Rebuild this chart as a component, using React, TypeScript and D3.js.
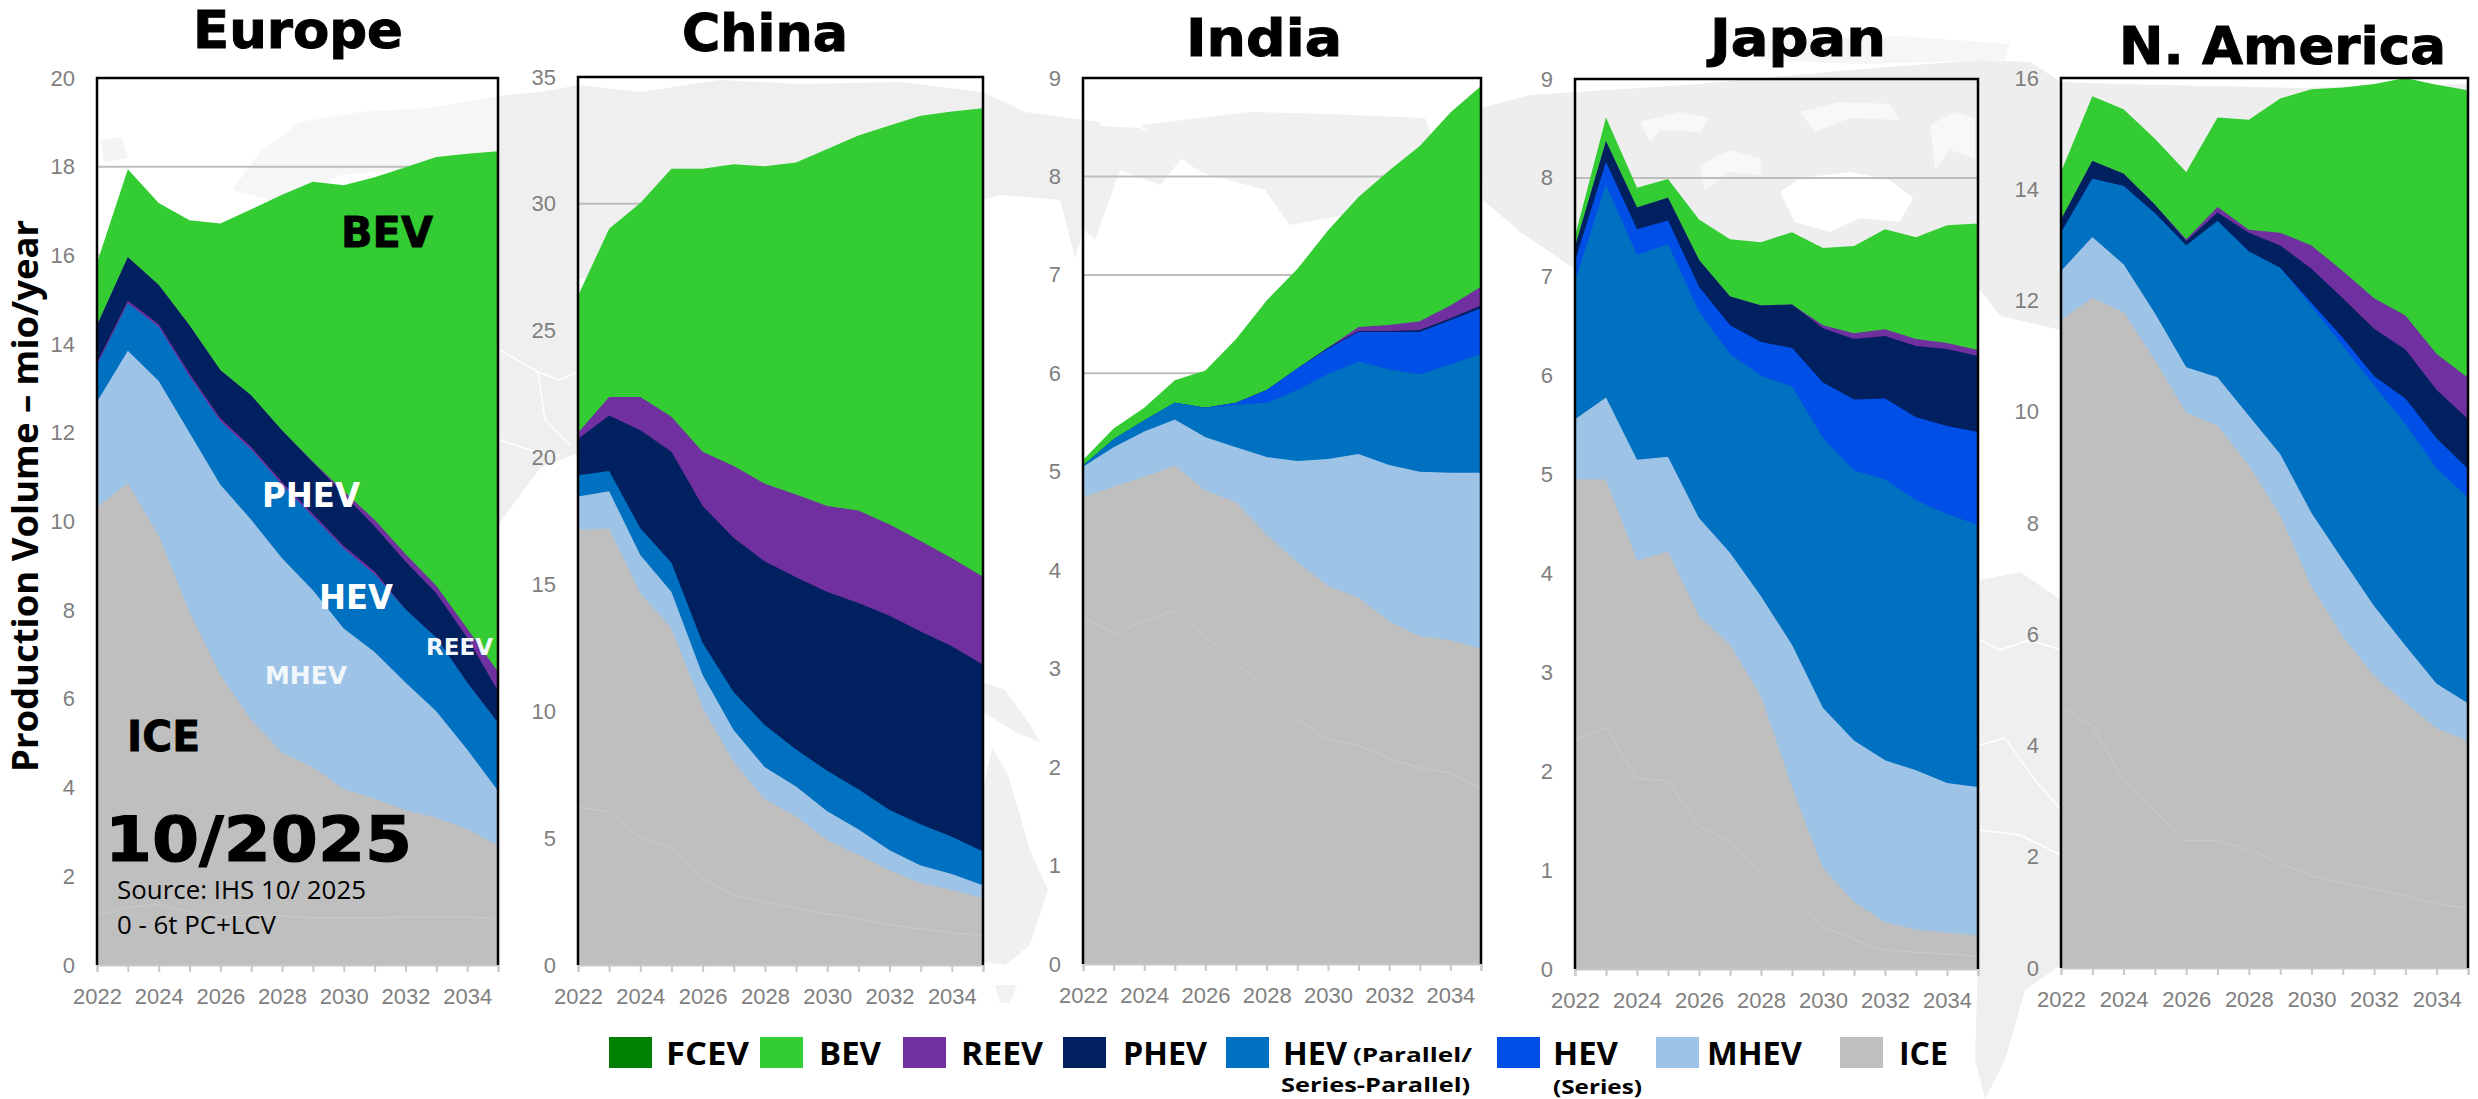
import React, { useEffect, useRef } from 'react';
import * as d3 from 'd3';

const years = [2022, 2023, 2024, 2025, 2026, 2027, 2028, 2029, 2030, 2031, 2032, 2033, 2034, 2035];
const evenYears = years.filter(y => y % 2 === 0);

// stack tops, mio/year (cumulative from the ground up)
const europeIceSplit = [1.12, 1.3, 1.36, 1.2, 1.1, 1.12, 1.1, 1.07, 1.07, 1.07, 1.08, 1.09, 1.09, 1.04];
const europeIce = [10.32, 10.86, 9.68, 7.95, 6.54, 5.53, 4.79, 4.46, 3.97, 3.75, 3.49, 3.32, 3.06, 2.7];
const europeMhev = [12.7, 13.85, 13.17, 12.0, 10.83, 10.04, 9.17, 8.45, 7.59, 7.06, 6.37, 5.72, 4.86, 3.93];
const europeHev = [13.53, 14.92, 14.39, 13.27, 12.26, 11.62, 10.83, 10.11, 9.39, 8.81, 8.02, 7.38, 6.37, 5.46];
const europeHevThin = [13.58, 14.98, 14.45, 13.33, 12.32, 11.68, 10.89, 10.17, 9.45, 8.87, 8.02, 7.38, 6.37, 5.46];
const europePhev = [14.42, 15.96, 15.33, 14.42, 13.41, 12.84, 12.05, 11.33, 10.61, 9.89, 9.1, 8.38, 7.38, 6.18];
const europeReev = [14.42, 15.96, 15.33, 14.42, 13.41, 12.84, 12.05, 11.35, 10.68, 10.04, 9.27, 8.55, 7.59, 6.61];
const europeBev = [15.83, 17.94, 17.18, 16.79, 16.72, 17.04, 17.37, 17.66, 17.58, 17.76, 17.99, 18.22, 18.29, 18.35];

const chinaIceSplit = [6.23, 6.03, 5.03, 4.65, 3.42, 2.76, 2.46, 2.24, 2.01, 1.83, 1.58, 1.43, 1.26, 1.16];
const chinaIce = [17.16, 17.19, 14.65, 13.27, 10.13, 7.99, 6.53, 5.85, 4.92, 4.35, 3.72, 3.22, 2.96, 2.64];
const chinaMhev = [18.47, 18.67, 16.16, 14.7, 11.43, 9.25, 7.79, 7.04, 6.06, 5.35, 4.52, 3.92, 3.59, 3.14];
const chinaHev = [19.3, 19.47, 17.21, 15.85, 12.69, 10.75, 9.45, 8.49, 7.66, 6.93, 6.11, 5.55, 5.05, 4.47];
const chinaPhev = [20.73, 21.66, 21.08, 20.23, 18.09, 16.83, 15.9, 15.28, 14.7, 14.27, 13.77, 13.14, 12.56, 11.83];
const chinaReev = [20.98, 22.39, 22.39, 21.61, 20.23, 19.67, 18.97, 18.54, 18.09, 17.91, 17.36, 16.71, 16.03, 15.3];
const chinaBev = [26.38, 29.02, 30.03, 31.38, 31.38, 31.56, 31.48, 31.63, 32.16, 32.69, 33.09, 33.47, 33.64, 33.77];

const indiaIceSplit = [3.53, 3.36, 3.48, 3.59, 3.32, 3.06, 2.8, 2.49, 2.28, 2.22, 2.09, 1.99, 1.94, 1.78];
const indiaIce = [4.74, 4.85, 4.95, 5.06, 4.81, 4.69, 4.36, 4.08, 3.84, 3.72, 3.48, 3.33, 3.29, 3.2];
const indiaMhev = [5.05, 5.25, 5.41, 5.53, 5.35, 5.25, 5.15, 5.11, 5.13, 5.18, 5.07, 5.0, 4.99, 4.99];
const indiaHev = [5.06, 5.33, 5.52, 5.7, 5.65, 5.68, 5.7, 5.83, 5.99, 6.12, 6.04, 5.99, 6.09, 6.2];
const indiaHevSeries = [5.06, 5.33, 5.52, 5.7, 5.65, 5.7, 5.83, 6.05, 6.25, 6.42, 6.42, 6.42, 6.54, 6.66];
const indiaPhev = [5.06, 5.33, 5.52, 5.7, 5.65, 5.7, 5.83, 6.05, 6.26, 6.43, 6.43, 6.44, 6.56, 6.69];
const indiaReev = [5.06, 5.33, 5.52, 5.7, 5.65, 5.7, 5.83, 6.05, 6.26, 6.47, 6.49, 6.53, 6.69, 6.88];
const indiaBev = [5.12, 5.44, 5.65, 5.93, 6.03, 6.35, 6.74, 7.06, 7.45, 7.79, 8.06, 8.31, 8.65, 8.92];

const japanIceSplit = [2.32, 2.44, 1.93, 1.9, 1.44, 1.29, 0.98, 0.71, 0.43, 0.3, 0.19, 0.17, 0.15, 0.13];
const japanIce = [4.95, 4.95, 4.13, 4.22, 3.57, 3.28, 2.76, 1.84, 1.02, 0.68, 0.47, 0.4, 0.37, 0.34];
const japanMhev = [5.56, 5.78, 5.15, 5.18, 4.56, 4.21, 3.77, 3.28, 2.64, 2.31, 2.11, 2.01, 1.88, 1.84];
const japanHev = [6.96, 7.93, 7.22, 7.33, 6.65, 6.22, 6.0, 5.89, 5.37, 5.04, 4.95, 4.74, 4.6, 4.49];
const japanHevSeries = [7.16, 8.16, 7.48, 7.57, 6.9, 6.51, 6.34, 6.28, 5.93, 5.76, 5.77, 5.58, 5.49, 5.43];
const japanPhev = [7.3, 8.37, 7.7, 7.8, 7.17, 6.8, 6.71, 6.72, 6.48, 6.37, 6.4, 6.3, 6.27, 6.2];
const japanReev = [7.3, 8.37, 7.7, 7.8, 7.17, 6.8, 6.71, 6.72, 6.51, 6.43, 6.47, 6.37, 6.33, 6.26];
const japanBev = [7.41, 8.61, 7.9, 7.99, 7.58, 7.38, 7.35, 7.45, 7.29, 7.31, 7.48, 7.4, 7.52, 7.54];

const namericaIceSplit = [4.7, 4.36, 3.36, 2.82, 2.29, 2.29, 2.13, 1.89, 1.66, 1.53, 1.42, 1.3, 1.15, 1.07];
const namericaIce = [11.65, 12.05, 11.79, 10.93, 9.98, 9.75, 9.04, 8.14, 6.86, 5.96, 5.25, 4.77, 4.31, 4.08];
const namericaMhev = [12.53, 13.14, 12.65, 11.77, 10.8, 10.62, 9.93, 9.24, 8.18, 7.34, 6.51, 5.8, 5.11, 4.76];
const namericaHev = [13.22, 14.19, 14.06, 13.57, 12.99, 13.43, 12.88, 12.59, 11.9, 11.19, 10.47, 9.78, 8.98, 8.46];
const namericaHevSeries = [13.22, 14.19, 14.06, 13.57, 12.99, 13.43, 12.88, 12.59, 11.96, 11.33, 10.64, 10.24, 9.52, 8.97];
const namericaPhev = [13.45, 14.51, 14.28, 13.72, 13.07, 13.58, 13.22, 12.99, 12.57, 12.04, 11.49, 11.12, 10.39, 9.87];
const namericaReev = [13.45, 14.51, 14.28, 13.72, 13.1, 13.68, 13.27, 13.22, 12.99, 12.53, 12.04, 11.73, 11.04, 10.61];
const namericaBev = [14.31, 15.67, 15.44, 14.91, 14.31, 15.29, 15.25, 15.63, 15.8, 15.83, 15.89, 16.0, 15.88, 15.78];

const colors = {
  FCEV: '#008000',
  BEV: '#33cc33',
  REEV: '#7030a0',
  PHEV: '#002060',
  HEV: '#0070c0',
  HEVS: '#0050e8',
  MHEV: '#9dc3e6',
  ICE: '#bfbfbf',
};

const regions = [
  {
    name: 'Europe', yMax: 20, yStep: 2, split: europeIceSplit,
    box: { left: 97, right: 498, top: 78, bottom: 965 }, title: { x: 193, w: 210, y: 48 },
    layers: [
      [europeBev, colors.BEV], [europeReev, colors.REEV], [europePhev, colors.PHEV],
      [europeHevThin, colors.REEV], [europeHev, colors.HEV], [europeMhev, colors.MHEV], [europeIce, colors.ICE],
    ],
  },
  {
    name: 'China', yMax: 35, yStep: 5, split: chinaIceSplit,
    box: { left: 578, right: 983, top: 77, bottom: 965 }, title: { x: 682, w: 166, y: 51 },
    layers: [
      [chinaBev, colors.BEV], [chinaReev, colors.REEV], [chinaPhev, colors.PHEV],
      [chinaHev, colors.HEV], [chinaMhev, colors.MHEV], [chinaIce, colors.ICE],
    ],
  },
  {
    name: 'India', yMax: 9, yStep: 1, split: indiaIceSplit,
    box: { left: 1083, right: 1481, top: 78, bottom: 964 }, title: { x: 1186, w: 156, y: 56 },
    layers: [
      [indiaBev, colors.BEV], [indiaReev, colors.REEV], [indiaPhev, colors.PHEV], [indiaHevSeries, colors.HEVS],
      [indiaHev, colors.HEV], [indiaMhev, colors.MHEV], [indiaIce, colors.ICE],
    ],
  },
  {
    name: 'Japan', yMax: 9, yStep: 1, split: japanIceSplit,
    box: { left: 1575, right: 1978, top: 79, bottom: 969 }, title: { x: 1710, w: 176, y: 56 },
    layers: [
      [japanBev, colors.BEV], [japanReev, colors.REEV], [japanPhev, colors.PHEV], [japanHevSeries, colors.HEVS],
      [japanHev, colors.HEV], [japanMhev, colors.MHEV], [japanIce, colors.ICE],
    ],
  },
  {
    name: 'N. America', yMax: 16, yStep: 2, split: namericaIceSplit,
    box: { left: 2061, right: 2468, top: 78, bottom: 968 }, title: { x: 2119, w: 327, y: 64 },
    layers: [
      [namericaBev, colors.BEV], [namericaReev, colors.REEV], [namericaPhev, colors.PHEV], [namericaHevSeries, colors.HEVS],
      [namericaHev, colors.HEV], [namericaMhev, colors.MHEV], [namericaIce, colors.ICE],
    ],
  },
];

const legendItems = [
  { color: colors.FCEV, label: 'FCEV', x: 609, textX: 666, w: 83 },
  { color: colors.BEV, label: 'BEV', x: 760, textX: 819, w: 62 },
  { color: colors.REEV, label: 'REEV', x: 903, textX: 961, w: 82 },
  { color: colors.PHEV, label: 'PHEV', x: 1063, textX: 1123, w: 84 },
  { color: colors.HEV, label: 'HEV', x: 1226, textX: 1283, w: 64 },
  { color: colors.HEVS, label: 'HEV', x: 1497, textX: 1553, w: 65 },
  { color: colors.MHEV, label: 'MHEV', x: 1656, textX: 1707, w: 95 },
  { color: colors.ICE, label: 'ICE', x: 1840, textX: 1899, w: 49 },
];

const legendNotes = [
  { text: '(Parallel/', x: 1353, y: 1062, w: 119 },
  { text: 'Series-Parallel)', x: 1281, y: 1092, w: 189 },
  { text: '(Series)', x: 1553, y: 1094, w: 89 },
];

// words laid over the Europe panel
const europeNotes = [
  { text: 'BEV', x: 341, y: 247, w: 92, size: 43, fill: '#000', stroke: 0.8 },
  { text: 'ICE', x: 127, y: 751, w: 73, size: 42, fill: '#000', stroke: 0.8 },
  { text: 'PHEV', x: 262, y: 507, w: 98, size: 33, fill: '#fff', stroke: 0 },
  { text: 'HEV', x: 319, y: 609, w: 74, size: 33, fill: '#fff', stroke: 0 },
  { text: 'MHEV', x: 265, y: 684, w: 82, size: 25, fill: '#f2f7fc', stroke: 0 },
  { text: 'REEV', x: 426, y: 655, w: 67, size: 23, fill: '#f2f7fc', stroke: 0 },
  { text: '10/2025', x: 105, y: 861, w: 307, size: 63, fill: '#000', stroke: 1.2 },
];

// washed-out world map behind the panels, rough outlines only
const mapLand = [
  { fill: '#f6f6f6', pts: [[232, 190], [262, 150], [300, 122], [360, 112], [430, 108], [498, 96], [500, 180], [440, 195], [400, 170], [340, 175], [290, 205]] },
  { fill: '#f4f4f4', pts: [[100, 140], [122, 137], [128, 158], [104, 162]] },
  { fill: '#efefef', pts: [[498, 96], [540, 92], [579, 85], [640, 92], [720, 80], [800, 84], [900, 82], [983, 92], [1025, 112], [1100, 122], [1096, 190], [1075, 258], [1060, 200], [1000, 195], [983, 200], [900, 215], [700, 240], [578, 280], [578, 453], [540, 468], [499, 524]] },
  { fill: '#f0f0f0', pts: [[1085, 125], [1140, 128], [1190, 148], [1160, 185], [1120, 170], [1095, 240], [1085, 230]] },
  { fill: '#f0f0f0', pts: [[1141, 125], [1250, 112], [1330, 114], [1425, 118], [1440, 160], [1400, 190], [1345, 215], [1290, 225], [1265, 190], [1200, 172], [1170, 150]] },
  { fill: '#eeeeee', pts: [[1481, 108], [1530, 95], [1576, 92], [1700, 84], [1850, 70], [1980, 60], [2030, 62], [2061, 82], [2120, 84], [2300, 88], [2468, 84], [2468, 120], [2330, 150], [2200, 165], [2130, 195], [2061, 330], [2000, 316], [1980, 290], [1900, 270], [1780, 245], [1680, 250], [1576, 270], [1520, 232], [1483, 200]] },
  { fill: '#f6f6f6', pts: [[1760, 40], [1900, 36], [2010, 44], [2005, 60], [1860, 64], [1760, 60]] },
  { fill: '#efefef', pts: [[1980, 580], [2020, 572], [2061, 600], [2061, 965], [2025, 990], [2005, 1060], [1985, 1099], [1975, 1060], [1978, 960]] },
  { fill: '#f0f0f0', pts: [[983, 682], [1005, 690], [1030, 725], [1040, 742], [1015, 732], [983, 712]] },
  { fill: '#f0f0f0', pts: [[983, 790], [992, 748], [1008, 775], [1030, 850], [1048, 890], [1030, 945], [1005, 965], [983, 962]] },
  { fill: '#f2f2f2', pts: [[995, 985], [1017, 985], [1010, 1003], [1000, 1003]] },
];

// gaps and the pale country borders on the map
const mapGaps = [
  { fill: '#fff', pts: [[1780, 192], [1800, 178], [1850, 172], [1890, 180], [1913, 198], [1900, 222], [1860, 218], [1830, 232], [1795, 222]] },
  { fill: '#f8f8f8', pts: [[1640, 122], [1680, 112], [1710, 118], [1700, 132], [1660, 130], [1650, 142]] },
  { fill: '#f8f8f8', pts: [[1800, 112], [1840, 102], [1890, 104], [1900, 120], [1850, 118], [1815, 132]] },
  { fill: '#f8f8f8', pts: [[1700, 165], [1730, 150], [1760, 158], [1762, 175], [1730, 172], [1705, 190]] },
  { fill: '#f8f8f8', pts: [[1930, 125], [1955, 112], [1975, 118], [1975, 158], [1950, 150], [1935, 170]] },
];
const mapBorders = [
  [[500, 350], [538, 372], [560, 380], [578, 372]],
  [[538, 372], [545, 420], [570, 445]],
  [[500, 440], [530, 450], [560, 456]],
  [[1980, 640], [2000, 650], [2030, 640], [2061, 650]],
  [[1980, 745], [2005, 738], [2035, 780], [2061, 810]],
  [[1980, 830], [2020, 835], [2061, 855]],
];

const App = () => {
  const svgRef = useRef<SVGSVGElement | null>(null);

  useEffect(() => {
    document.body.style.margin = '0';
    const svg = d3.select(svgRef.current);
    svg.selectAll('*').remove();

    const outline = d3.line();
    const map = svg.append('g');
    map.selectAll('path.land')
      .data(mapLand)
      .enter().append('path')
      .attr('class', 'land')
      .attr('d', d => outline(d.pts as [number, number][]) + 'Z')
      .attr('fill', d => d.fill);
    map.selectAll('path.gap')
      .data(mapGaps)
      .enter().append('path')
      .attr('class', 'gap')
      .attr('d', d => outline(d.pts as [number, number][]) + 'Z')
      .attr('fill', d => d.fill);
    map.selectAll('path.border')
      .data(mapBorders)
      .enter().append('path')
      .attr('class', 'border')
      .attr('d', d => outline(d as [number, number][]))
      .attr('fill', 'none')
      .attr('stroke', '#fff')
      .attr('stroke-width', 1.5);

    regions.forEach(region => {
      const { left, right, top, bottom } = region.box;
      const x = d3.scaleLinear().domain([years[0], years[years.length - 1]]).range([left, right]);
      const y = d3.scaleLinear().domain([0, region.yMax]).range([bottom, top]);
      const yTicks = d3.range(0, region.yMax + 1, region.yStep);

      const panel = svg.append('g');

      // grid shows only where the stack stays below it
      panel.append('g').selectAll('line')
        .data(yTicks.filter(t => t > 0))
        .enter().append('line')
        .attr('x1', left).attr('x2', right)
        .attr('y1', d => y(d)).attr('y2', d => y(d))
        .attr('stroke', '#bdbdbd')
        .attr('stroke-width', 2);

      // painted top layer first, each one down to the ground
      const area = d3.area<number>()
        .x((_, i) => x(years[i]))
        .y0(bottom)
        .y1(d => y(d));

      panel.append('g').selectAll('path')
        .data(region.layers)
        .enter().append('path')
        .attr('d', d => area(d[0] as number[]))
        .attr('fill', d => d[1] as string);

      const splitLine = d3.line<number>()
        .x((_, i) => x(years[i]))
        .y(d => y(d));
      panel.append('path')
        .attr('d', splitLine(region.split))
        .attr('fill', 'none')
        .attr('stroke', '#cbcbcb')
        .attr('stroke-width', 1);

      const xAxis = panel.append('g')
        .attr('transform', `translate(0,${bottom})`)
        .call(d3.axisBottom(x)
          .tickValues(years)
          .tickSize(7)
          .tickPadding(16)
          .tickFormat(d => (evenYears.includes(+d) ? String(d) : '')));
      xAxis.select('.domain').attr('stroke', '#c8c8c8').attr('stroke-width', 2);
      xAxis.selectAll('.tick line').attr('stroke', '#c8c8c8').attr('stroke-width', 2);
      xAxis.selectAll('text')
        .attr('font-family', 'Liberation Sans')
        .attr('font-size', 22)
        .attr('fill', '#7f7f7f');

      const yAxis = panel.append('g')
        .attr('transform', `translate(${left},0)`)
        .call(d3.axisLeft(y).tickValues(yTicks).tickSize(0).tickPadding(22));
      yAxis.select('.domain').remove();
      yAxis.selectAll('text')
        .attr('font-family', 'Liberation Sans')
        .attr('font-size', 22)
        .attr('fill', '#7f7f7f');

      panel.append('path')
        .attr('d', `M${left},${bottom}V${top}H${right}V${bottom}`)
        .attr('fill', 'none')
        .attr('stroke', '#000')
        .attr('stroke-width', 2.5);

      panel.append('text')
        .attr('x', region.title.x)
        .attr('y', region.title.y)
        .attr('textLength', region.title.w)
        .attr('lengthAdjust', 'spacingAndGlyphs')
        .attr('font-family', 'DejaVu Sans')
        .attr('font-weight', 'bold')
        .attr('font-size', 52)
        .attr('stroke', '#000')
        .attr('stroke-width', 1)
        .text(region.name);
    });

    europeNotes.forEach(n => {
      svg.append('text')
        .attr('x', n.x).attr('y', n.y)
        .attr('textLength', n.w)
        .attr('lengthAdjust', 'spacingAndGlyphs')
        .attr('font-family', 'DejaVu Sans')
        .attr('font-weight', 'bold')
        .attr('font-size', n.size)
        .attr('fill', n.fill)
        .attr('stroke', n.fill)
        .attr('stroke-width', n.stroke)
        .text(n.text);
    });

    svg.append('text')
      .attr('x', 117).attr('y', 899)
      .attr('textLength', 249)
      .attr('lengthAdjust', 'spacingAndGlyphs')
      .attr('font-family', 'Open Sans')
      .attr('font-size', 25)
      .text('Source: IHS 10/ 2025');
    svg.append('text')
      .attr('x', 117).attr('y', 934)
      .attr('textLength', 159)
      .attr('lengthAdjust', 'spacingAndGlyphs')
      .attr('font-family', 'Open Sans')
      .attr('font-size', 25)
      .text('0 - 6t PC+LCV');

    svg.append('text')
      .attr('transform', 'translate(38,772) rotate(-90)')
      .attr('textLength', 552)
      .attr('lengthAdjust', 'spacingAndGlyphs')
      .attr('font-family', 'Open Sans')
      .attr('font-weight', 'bold')
      .attr('font-size', 36)
      .text('Production Volume – mio/year');

    legendItems.forEach(item => {
      svg.append('rect')
        .attr('x', item.x).attr('y', 1037)
        .attr('width', 43).attr('height', 31)
        .attr('fill', item.color);
      svg.append('text')
        .attr('x', item.textX).attr('y', 1065)
        .attr('textLength', item.w)
        .attr('lengthAdjust', 'spacingAndGlyphs')
        .attr('font-family', 'Open Sans')
        .attr('font-weight', 'bold')
        .attr('font-size', 33)
        .text(item.label);
    });

    legendNotes.forEach(n => {
      svg.append('text')
        .attr('x', n.x).attr('y', n.y)
        .attr('textLength', n.w)
        .attr('lengthAdjust', 'spacingAndGlyphs')
        .attr('font-family', 'Open Sans')
        .attr('font-weight', 'bold')
        .attr('font-size', 20)
        .text(n.text);
    });
  }, []);

  return <svg ref={svgRef} width={2478} height={1099} style={{ display: 'block', background: '#fff' }} />;
};

export default App;
